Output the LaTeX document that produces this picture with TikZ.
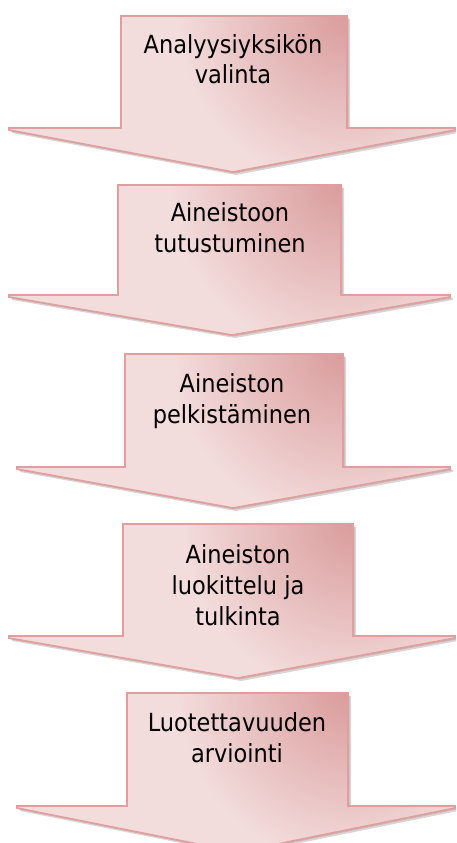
\documentclass[tikz,border=0pt]{standalone}
\usepackage{fontspec}
\setmainfont{DejaVu Sans Condensed}
\definecolor{arrdark}{HTML}{DA9C9C}
\definecolor{arrlight}{HTML}{F3DCDC}
\definecolor{arrline}{HTML}{E09E9E}
\definecolor{arrshadow}{HTML}{A08585}
\tikzset{
  arrowfillstyle/.style={fill=arrlight},
  arrowborder/.style={draw=arrline, line width=1.6pt, line join=miter},
  arrowshadow/.style={fill=arrshadow, opacity=0.35},
  arrowtext/.style={font=\fontsize{25}{31}\selectfont, align=center, inner sep=0pt, anchor=base, text=black}
}
\newcommand\arrowpath[8]{(#1,#3) -- (#2,#3) -- (#2,#4) -- (#6,#4) -- (#6,#4+2) -- (#8,#7) -- (#5,#4+2) -- (#5,#4) -- (#1,#4) -- cycle}
\newcommand\blockarrow[8]{%
  \foreach \d in {1.5,3} {
    \fill[arrowshadow, shift={(\d,\d)}] \arrowpath{#1}{#2}{#3}{#4}{#5}{#6}{#7}{#8};
  }
  \fill[arrowfillstyle] \arrowpath{#1}{#2}{#3}{#4}{#5}{#6}{#7}{#8};
  \begin{scope}
    \clip \arrowpath{#1}{#2}{#3}{#4}{#5}{#6}{#7}{#8};
    \shade[inner color=arrdark, outer color=arrlight] (#2,#3) circle (170);
  \end{scope}
  \draw[arrowborder] \arrowpath{#1}{#2}{#3}{#4}{#5}{#6}{#7}{#8};
}
\begin{document}
\begin{tikzpicture}[x=1pt,y=-1pt]
\useasboundingbox (0,0) rectangle (456,843);
\begin{scope}
\clip (0,0) rectangle (456,843);
\blockarrow{121}{347}{16}{128}{9}{455}{172}{233}
\blockarrow{118}{341}{185}{295}{9}{450}{335}{232}
\blockarrow{125}{343}{354}{467}{17}{450}{508}{233}
\blockarrow{123}{353}{524}{636}{9}{455}{678}{238}
\blockarrow{127}{348}{693}{806}{17}{455}{852}{238}
\end{scope}
\node[arrowtext] (t1) at (233,84) {Analyysiyksikön\\valinta};
\node[arrowtext] (t2) at (230,252) {Aineistoon\\tutustuminen};
\node[arrowtext] (t3) at (232,423) {Aineiston\\pelkistäminen};
\node[arrowtext] (t4) at (238,625) {Aineiston\\luokittelu ja\\tulkinta};
\node[arrowtext] (t5) at (237,762) {Luotettavuuden\\arviointi};
\end{tikzpicture}
\end{document}
